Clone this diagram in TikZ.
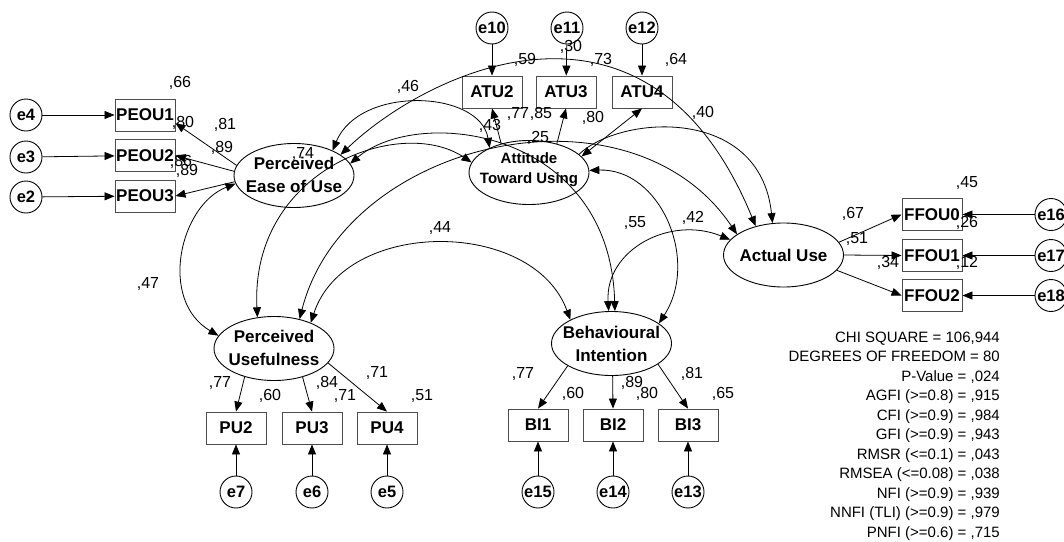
\documentclass[tikz,border=0pt]{standalone}
\usepackage{fontspec}
\setmainfont{Liberation Sans}
\usetikzlibrary{shapes.geometric,arrows.meta}
\begin{document}
\begin{tikzpicture}[x=1pt,y=-1pt,
  every node/.style={inner sep=0pt},
  lat/.style={ellipse,draw,line width=0.9pt,minimum width=120pt,minimum height=64pt},
  lattext/.style={align=center,font=\fontsize{17}{23}\selectfont\bfseries},
  atutext/.style={align=center,font=\fontsize{15}{20}\selectfont\bfseries},
  obs/.style={rectangle,draw=black!70,line width=0.9pt,minimum width=60pt,minimum height=32pt,font=\fontsize{17}{20}\selectfont\bfseries},
  err/.style={circle,draw,line width=0.9pt,minimum size=32pt,font=\fontsize{16.5}{20}\selectfont\bfseries},
  lbl/.style={font=\fontsize{16}{18}\selectfont,text height=11.5pt,text depth=0pt},
  stat/.style={font=\fontsize{15}{18}\selectfont,anchor=east,text height=10.8pt,text depth=0pt},
  arr/.style={line width=0.8pt,-{Triangle[length=10pt,width=8pt]}},
  darr/.style={line width=0.8pt,{Triangle[length=10pt,width=8pt]}-{Triangle[length=10pt,width=8pt]}},
]
\useasboundingbox (0,0) rectangle (1064,541);

% latent variables
\node[lat] (peou) at (294,175.5) {};
\node[lattext] (peout) at (294,175) {Perceived\\Ease of Use};
\node[lat] (atu) at (529,172.5) {};
\node[atutext] (atut) at (529,170) {Attitude\\Toward Using};
\node[lat] (au) at (783.5,255) {};
\node[lattext] (aut) at (783.5,255) {Actual Use};
\node[lat] (pu) at (274,348.5) {};
\node[lattext] (put) at (274,348) {Perceived\\Usefulness};
\node[lat] (bi) at (611.5,343.5) {};
\node[lattext] (bit) at (611.5,344) {Behavioural\\Intention};

% observed variables
\node[obs] (peou1) at (145,115) {PEOU1};
\node[obs] (peou2) at (145,155.5) {PEOU2};
\node[obs] (peou3) at (145,196) {PEOU3};
\node[obs] (atu2) at (492,92) {ATU2};
\node[obs] (atu3) at (566,92) {ATU3};
\node[obs] (atu4) at (642,92) {ATU4};
\node[obs] (ffou0) at (932,214.5) {FFOU0};
\node[obs] (ffou1) at (932,255.5) {FFOU1};
\node[obs] (ffou2) at (932,295.5) {FFOU2};
\node[obs] (pu2) at (236,428) {PU2};
\node[obs] (pu3) at (312,428) {PU3};
\node[obs] (pu4) at (387,428) {PU4};
\node[obs] (bi1) at (538,425) {BI1};
\node[obs] (bi2) at (613,425) {BI2};
\node[obs] (bi3) at (688,425) {BI3};

% error terms
\node[err] (e4) at (26,115) {e4};
\node[err] (e3) at (26,157) {e3};
\node[err] (e2) at (26,197) {e2};
\node[err] (e10) at (492,28) {e10};
\node[err] (e11) at (567,28) {e11};
\node[err] (e12) at (642,28) {e12};
\node[err] (e16) at (1051,214.5) {e16};
\node[err] (e17) at (1051,255.5) {e17};
\node[err] (e18) at (1051,295.5) {e18};
\node[err] (e7) at (236,492) {e7};
\node[err] (e6) at (312,492) {e6};
\node[err] (e5) at (387,492) {e5};
\node[err] (e15) at (538,492) {e15};
\node[err] (e14) at (613,492) {e14};
\node[err] (e13) at (688,492) {e13};

% labels
\node[lbl] (l1) at (180,82) {,66};
\node[lbl] (l2) at (183,122) {,80};
\node[lbl] (l3) at (225,124) {,81};
\node[lbl] (l4) at (222,147) {,89};
\node[lbl] (l5) at (181,161) {,86};
\node[lbl] (l6) at (187,170) {,89};
\node[lbl] (l7) at (303,153) {,74};
\node[lbl] (l8) at (408,86) {,46};
\node[lbl] (l9) at (525,59) {,59};
\node[lbl] (l10) at (571,46) {,30};
\node[lbl] (l11) at (601,59) {,73};
\node[lbl] (l12) at (676,59) {,64};
\node[lbl] (l13) at (490,125) {,43};
\node[lbl] (l14) at (518,113) {,77};
\node[lbl] (l15) at (541,113) {,85};
\node[lbl] (l16) at (593,117) {,80};
\node[lbl] (l17) at (538,137) {,25};
\node[lbl] (l18) at (703,112) {,40};
\node[lbl] (l19) at (635,222) {,55};
\node[lbl] (l20) at (693,217) {,42};
\node[lbl] (l21) at (440,227) {,44};
\node[lbl] (l22) at (148,283) {,47};
\node[lbl] (l23) at (853,213) {,67};
\node[lbl] (l24) at (857,238) {,51};
\node[lbl] (l25) at (967,182) {,45};
\node[lbl] (l26) at (967,222) {,26};
\node[lbl] (l27) at (888,262) {,34};
\node[lbl] (l28) at (967,262) {,12};
\node[lbl] (l29) at (220,382) {,77};
\node[lbl] (l30) at (270,395) {,60};
\node[lbl] (l31) at (327,382) {,84};
\node[lbl] (l32) at (345,395) {,71};
\node[lbl] (l33) at (377,372) {,71};
\node[lbl] (l34) at (422,395) {,51};
\node[lbl] (l35) at (523,373) {,77};
\node[lbl] (l36) at (573,393) {,60};
\node[lbl] (l37) at (632,382) {,89};
\node[lbl] (l38) at (647,393) {,80};
\node[lbl] (l39) at (692,373) {,81};
\node[lbl] (l40) at (723,393) {,65};

% fit statistics
\node[stat] (s1) at (1000,337) {CHI SQUARE = 106,944};
\node[stat] (s2) at (1000,356.5) {DEGREES OF FREEDOM = 80};
\node[stat] (s3) at (1000,376) {P-Value = ,024};
\node[stat] (s4) at (1000,395.5) {AGFI (>=0.8) = ,915};
\node[stat] (s5) at (1000,415) {CFI (>=0.9) = ,984};
\node[stat] (s6) at (1000,434.5) {GFI (>=0.9) = ,943};
\node[stat] (s7) at (1000,454) {RMSR (<=0.1) = ,043};
\node[stat] (s8) at (1000,473.5) {RMSEA (<=0.08) = ,038};
\node[stat] (s9) at (1000,493) {NFI (>=0.9) = ,939};
\node[stat] (s10) at (1000,512.5) {NNFI (TLI) (>=0.9) = ,979};
\node[stat] (s11) at (1000,532) {PNFI (>=0.6) = ,715};

% error arrows
\draw[arr] (e4) -- (peou1);
\draw[arr] (e3) -- (peou2);
\draw[arr] (e2) -- (peou3);
\draw[arr] (e10) -- (atu2);
\draw[arr] (e11) -- (atu3);
\draw[arr] (e12) -- (atu4);
\draw[arr] (e16) -- (ffou0);
\draw[arr] (e17) -- (ffou1);
\draw[arr] (e18) -- (ffou2);
\draw[arr] (e7) -- (pu2);
\draw[arr] (e6) -- (pu3);
\draw[arr] (e5) -- (pu4);
\draw[arr] (e15) -- (bi1);
\draw[arr] (e14) -- (bi2);
\draw[arr] (e13) -- (bi3);

% loadings
\draw[arr] (peou.170) -- (peou1.-15);
\draw[arr] (peou.176) -- (peou2.east);
\draw[arr] (peou.186) -- (peou3.east);
\draw[arr] (atu.134) -- (atu2.south);
\draw[arr] (atu.46) -- (atu3.south);
\draw[darr] (atu.17) -- (atu4.south);
\draw[arr] (au.13) -- (ffou0.west);
\draw[arr] (au.0) -- (ffou1.west);
\draw[arr] (au.-16) -- (ffou2.west);
\draw[arr] (pu.224) -- (pu2.north);
\draw[arr] (pu.-45) -- (pu3.north);
\draw[arr] (pu.-15) -- (pu4.north);
\draw[arr] (bi.207) -- (bi1.north);
\draw[arr] (bi.-88) -- (bi2.north);
\draw[arr] (bi.-24) -- (bi3.north);

% structural curves
\draw[darr] (peou.188) .. controls (180,205) and (158,300) .. (pu.167);
\draw[darr] (pu.35) .. controls (345,218) and (533,218) .. (bi.150);
\draw[darr] (peou.33) .. controls (360,85) and (480,90) .. (atu.148);
\draw[darr] (peou.24) .. controls (427,72) and (648,-36) .. (au.134);
\draw[darr] (pu.118) .. controls (250,170) and (400,115) .. (atu.170);
\draw[darr] (pu.49) .. controls (345,140) and (630,75) .. (au.156);
\draw[darr] (peou.12) .. controls (420,105) and (610,130) .. (bi.84);
\draw[darr] (bi.95) .. controls (605,250) and (670,215) .. (au.164);
\draw[darr] (atu.2) .. controls (660,168) and (700,260) .. (bi.23);
\draw[arr] (atu.20) .. controls (620,115) and (760,105) .. (au.109);
\end{tikzpicture}
\end{document}
